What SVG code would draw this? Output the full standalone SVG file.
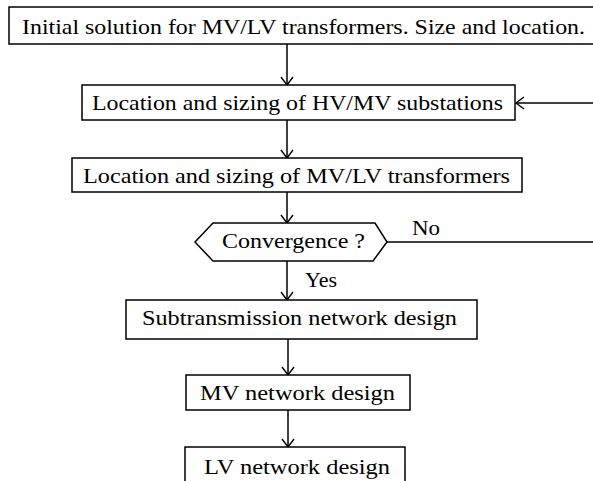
<svg xmlns="http://www.w3.org/2000/svg" width="593" height="481" viewBox="0 0 593 481">
<defs>
<style>
.box{fill:#fff;stroke:#000;stroke-width:1.5}
.t{font-family:"Liberation Serif","Times New Roman",serif;font-size:21px;fill:#000}
.c{fill:none;stroke:#000;stroke-width:1.5}
</style>
<marker id="a" markerWidth="12" markerHeight="14" refX="10" refY="7" orient="auto" markerUnits="userSpaceOnUse">
<path d="M2,1 L10,7 L2,13" fill="none" stroke="#000" stroke-width="1.4"/>
</marker>
</defs>
<rect width="593" height="481" fill="#fff"/>
<g id="connectors">
<line class="c" x1="287" y1="44" x2="287" y2="85" marker-end="url(#a)"/>
<line class="c" x1="287" y1="120" x2="287" y2="158" marker-end="url(#a)"/>
<line class="c" x1="287" y1="192" x2="287" y2="223" marker-end="url(#a)"/>
<line class="c" x1="287" y1="261" x2="287" y2="300" marker-end="url(#a)"/>
<line class="c" x1="288" y1="339" x2="288" y2="375" marker-end="url(#a)"/>
<line class="c" x1="288" y1="410" x2="288" y2="447" marker-end="url(#a)"/>
<polyline class="c" points="387,242 593,242"/>
<line class="c" x1="593" y1="103" x2="516" y2="103" marker-end="url(#a)"/>
<text class="t" x="412" y="235" textLength="28" lengthAdjust="spacingAndGlyphs">No</text>
<text class="t" x="305" y="287" textLength="32" lengthAdjust="spacingAndGlyphs">Yes</text>
</g>
<g id="n1">
<rect class="box" x="9" y="7" width="590" height="37"/>
<text class="t" x="22" y="34" textLength="563" lengthAdjust="spacingAndGlyphs">Initial solution for MV/LV transformers. Size and location.</text>
</g>
<g id="n2">
<rect class="box" x="82" y="85" width="433" height="35"/>
<text class="t" x="92" y="110" textLength="411" lengthAdjust="spacingAndGlyphs">Location and sizing of HV/MV substations</text>
</g>
<g id="n3">
<rect class="box" x="72" y="158" width="450" height="34"/>
<text class="t" x="83" y="183" textLength="427" lengthAdjust="spacingAndGlyphs">Location and sizing of MV/LV transformers</text>
</g>
<g id="n4">
<polygon class="box" points="195,242 213,223 375,223 387,242 373,261 213,261"/>
<text class="t" x="222" y="248" textLength="143" lengthAdjust="spacingAndGlyphs">Convergence ?</text>
</g>
<g id="n5">
<rect class="box" x="126" y="300" width="351" height="39"/>
<text class="t" x="142" y="325" textLength="315" lengthAdjust="spacingAndGlyphs">Subtransmission network design</text>
</g>
<g id="n6">
<rect class="box" x="186" y="375" width="224" height="35"/>
<text class="t" x="200" y="400" textLength="195" lengthAdjust="spacingAndGlyphs">MV network design</text>
</g>
<g id="n7">
<rect class="box" x="185" y="447" width="220" height="40"/>
<text class="t" x="204" y="474" textLength="186" lengthAdjust="spacingAndGlyphs">LV network design</text>
</g>
</svg>
